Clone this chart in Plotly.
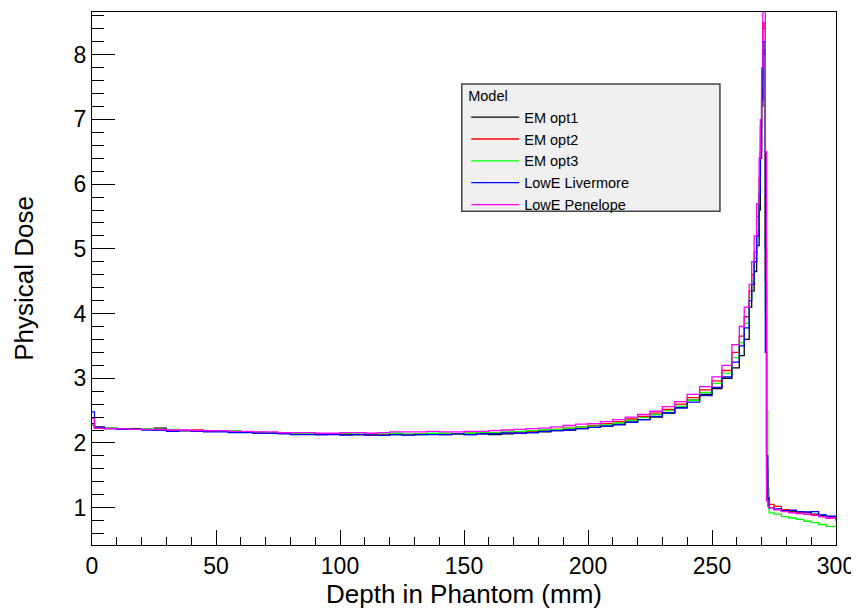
import plotly.graph_objects as go

# bin start positions (mm)
depth = ([0, 1] + list(range(5, 255, 5)) +
         [254, 258, 261, 263, 265, 266, 267, 268, 269, 269.5, 270, 270.5, 271,
          271.5, 272, 272.5, 273, 275, 278, 281, 284, 287, 290, 293, 296, 300])

em_opt1 = [2.30,
           2.25, 2.23, 2.22, 2.22, 2.21, 2.23, 2.20, 2.19, 2.19, 2.18,
           2.18, 2.17, 2.17, 2.16, 2.16, 2.15, 2.14, 2.14, 2.13, 2.14,
           2.13, 2.13, 2.13, 2.12, 2.13, 2.13, 2.13, 2.14, 2.13, 2.14,
           2.13, 2.14, 2.13, 2.14, 2.15, 2.16, 2.17, 2.19, 2.20, 2.22,
           2.24, 2.26, 2.29, 2.32, 2.36, 2.40, 2.46, 2.55, 2.66, 2.75, 2.84,
           3.00, 3.16, 3.35, 3.60, 4.10, 4.35, 4.65, 5.05, 5.60, 6.40, 7.20, 8.00, 8.18,
           5.00, 1.60, 1.15, 1.00, 0.97, 0.95, 0.94, 0.93, 0.93, 0.90, 0.88, 0.86, 0.82]

em_opt2 = [2.28,
           2.23, 2.22, 2.22, 2.21, 2.22, 2.20, 2.20, 2.19, 2.20, 2.18,
           2.18, 2.18, 2.17, 2.16, 2.15, 2.15, 2.15, 2.14, 2.14, 2.14,
           2.14, 2.13, 2.12, 2.13, 2.14, 2.13, 2.14, 2.14, 2.14, 2.14,
           2.15, 2.15, 2.15, 2.16, 2.17, 2.18, 2.19, 2.21, 2.23, 2.25,
           2.27, 2.30, 2.33, 2.37, 2.41, 2.46, 2.52, 2.60, 2.70, 2.82, 2.96,
           3.12, 3.40, 3.65, 3.95, 4.35, 4.60, 4.95, 5.50, 6.10, 6.90, 7.60, 8.50, 8.40,
           4.50, 1.40, 1.10, 1.05, 1.02, 0.97, 0.93, 0.92, 0.90, 0.89, 0.86, 0.84, 0.80]

em_opt3 = [2.28,
           2.24, 2.23, 2.22, 2.21, 2.22, 2.21, 2.21, 2.19, 2.19, 2.19,
           2.18, 2.19, 2.17, 2.17, 2.16, 2.16, 2.15, 2.15, 2.14, 2.14,
           2.15, 2.14, 2.14, 2.14, 2.15, 2.14, 2.14, 2.15, 2.15, 2.14,
           2.15, 2.16, 2.16, 2.17, 2.18, 2.19, 2.20, 2.21, 2.23, 2.25,
           2.26, 2.28, 2.31, 2.35, 2.39, 2.44, 2.50, 2.57, 2.66, 2.78, 2.92,
           3.08, 3.32, 3.55, 3.85, 4.25, 4.50, 4.85, 5.30, 5.95, 6.70, 7.50, 8.20, 8.10,
           4.00, 2.50, 1.30, 0.92, 0.90, 0.86, 0.84, 0.82, 0.79, 0.77, 0.74, 0.71, 0.70]

lowe_livermore = [2.48,
                  2.24, 2.22, 2.21, 2.21, 2.20, 2.20, 2.18, 2.19, 2.18, 2.17,
                  2.17, 2.16, 2.16, 2.15, 2.15, 2.14, 2.13, 2.13, 2.13, 2.13,
                  2.12, 2.13, 2.12, 2.12, 2.13, 2.12, 2.13, 2.13, 2.13, 2.14,
                  2.13, 2.14, 2.14, 2.15, 2.15, 2.16, 2.18, 2.19, 2.20, 2.22,
                  2.24, 2.26, 2.28, 2.32, 2.36, 2.41, 2.47, 2.54, 2.63, 2.73, 2.86,
                  3.02, 3.25, 3.50, 3.78, 4.20, 4.45, 4.80, 5.20, 5.85, 6.50, 7.30, 8.20, 8.20,
                  3.40, 1.80, 1.15, 1.00, 0.98, 0.95, 0.96, 0.94, 0.93, 0.94, 0.89, 0.87, 0.83]

lowe_penelope = [2.38,
                 2.23, 2.22, 2.22, 2.21, 2.21, 2.21, 2.20, 2.20, 2.19, 2.19,
                 2.19, 2.18, 2.18, 2.17, 2.17, 2.16, 2.16, 2.16, 2.15, 2.15,
                 2.16, 2.16, 2.15, 2.16, 2.17, 2.17, 2.17, 2.18, 2.17, 2.17,
                 2.18, 2.18, 2.19, 2.20, 2.21, 2.22, 2.23, 2.25, 2.27, 2.29,
                 2.30, 2.33, 2.36, 2.40, 2.44, 2.49, 2.56, 2.64, 2.75, 2.87, 3.02,
                 3.20, 3.52, 3.80, 4.10, 4.45, 4.80, 5.20, 5.70, 6.40, 7.00, 7.80, 8.75, 8.75,
                 6.50, 1.10, 1.02, 1.00, 0.97, 0.94, 0.92, 0.91, 0.90, 0.88, 0.86, 0.84, 0.80]

series = [
    ('EM opt1', em_opt1, '#000000'),
    ('EM opt2', em_opt2, '#ff0000'),
    ('EM opt3', em_opt3, '#00ff00'),
    ('LowE Livermore', lowe_livermore, '#0000ff'),
    ('LowE Penelope', lowe_penelope, '#ff00ff'),
]

fig = go.Figure()

for name, vals, color in series:
    fig.add_trace(go.Scatter(x=depth, y=vals, name=name, mode='lines',
                             line=dict(color=color, width=1.3, shape='hv')))

# legend box (ROOT style)
fig.add_shape(type='rect', xref='paper', yref='paper',
              x0=0.497, x1=0.844, y0=0.626, y1=0.865,
              fillcolor='#f0f0f0', line=dict(color='#444444', width=1.5),
              layer='above')

axis_font = dict(family='Liberation Sans, Arial, sans-serif', size=23, color='#000000')
title_font = dict(family='Liberation Sans, Arial, sans-serif', size=26, color='#000000')

# the page body adds an 8px margin, so the figure is sized 8px smaller
fig.update_layout(
    width=851, height=602,
    margin=dict(l=84, r=23, t=4, b=65, autoexpand=False),
    paper_bgcolor='white', plot_bgcolor='white',
    showlegend=True,
    legend=dict(
        x=0.503, y=0.868, xanchor='left', yanchor='top',
        bgcolor='rgba(0,0,0,0)', borderwidth=0,
        font=dict(family='Liberation Sans, Arial, sans-serif', size=14.5, color='#000000'),
        title=dict(text='Model', font=dict(size=14.5)),
        itemwidth=48, tracegroupgap=0,
    ),
)

fig.update_xaxes(
    range=[0, 300], showgrid=False, zeroline=False, automargin=False,
    showline=True, linecolor='#000000', linewidth=1, mirror=True,
    ticks='inside', ticklen=15, tickcolor='#000000', dtick=50, tick0=0,
    minor=dict(ticks='inside', ticklen=8, dtick=10, tickcolor='#000000', showgrid=False),
    tickfont=axis_font,
    title=dict(text='Depth in Phantom (mm)', font=title_font, standoff=4),
)
fig.update_yaxes(
    range=[0.423, 8.66], showgrid=False, zeroline=False, automargin=False,
    showline=True, linecolor='#000000', linewidth=1, mirror=True,
    ticks='inside', ticklen=23, tickcolor='#000000', dtick=1, tick0=0,
    minor=dict(ticks='inside', ticklen=12, dtick=0.2, tickcolor='#000000', showgrid=False),
    tickfont=axis_font,
    title=dict(text='Physical Dose', font=title_font, standoff=32),
)

fig.write_html("out.html")
